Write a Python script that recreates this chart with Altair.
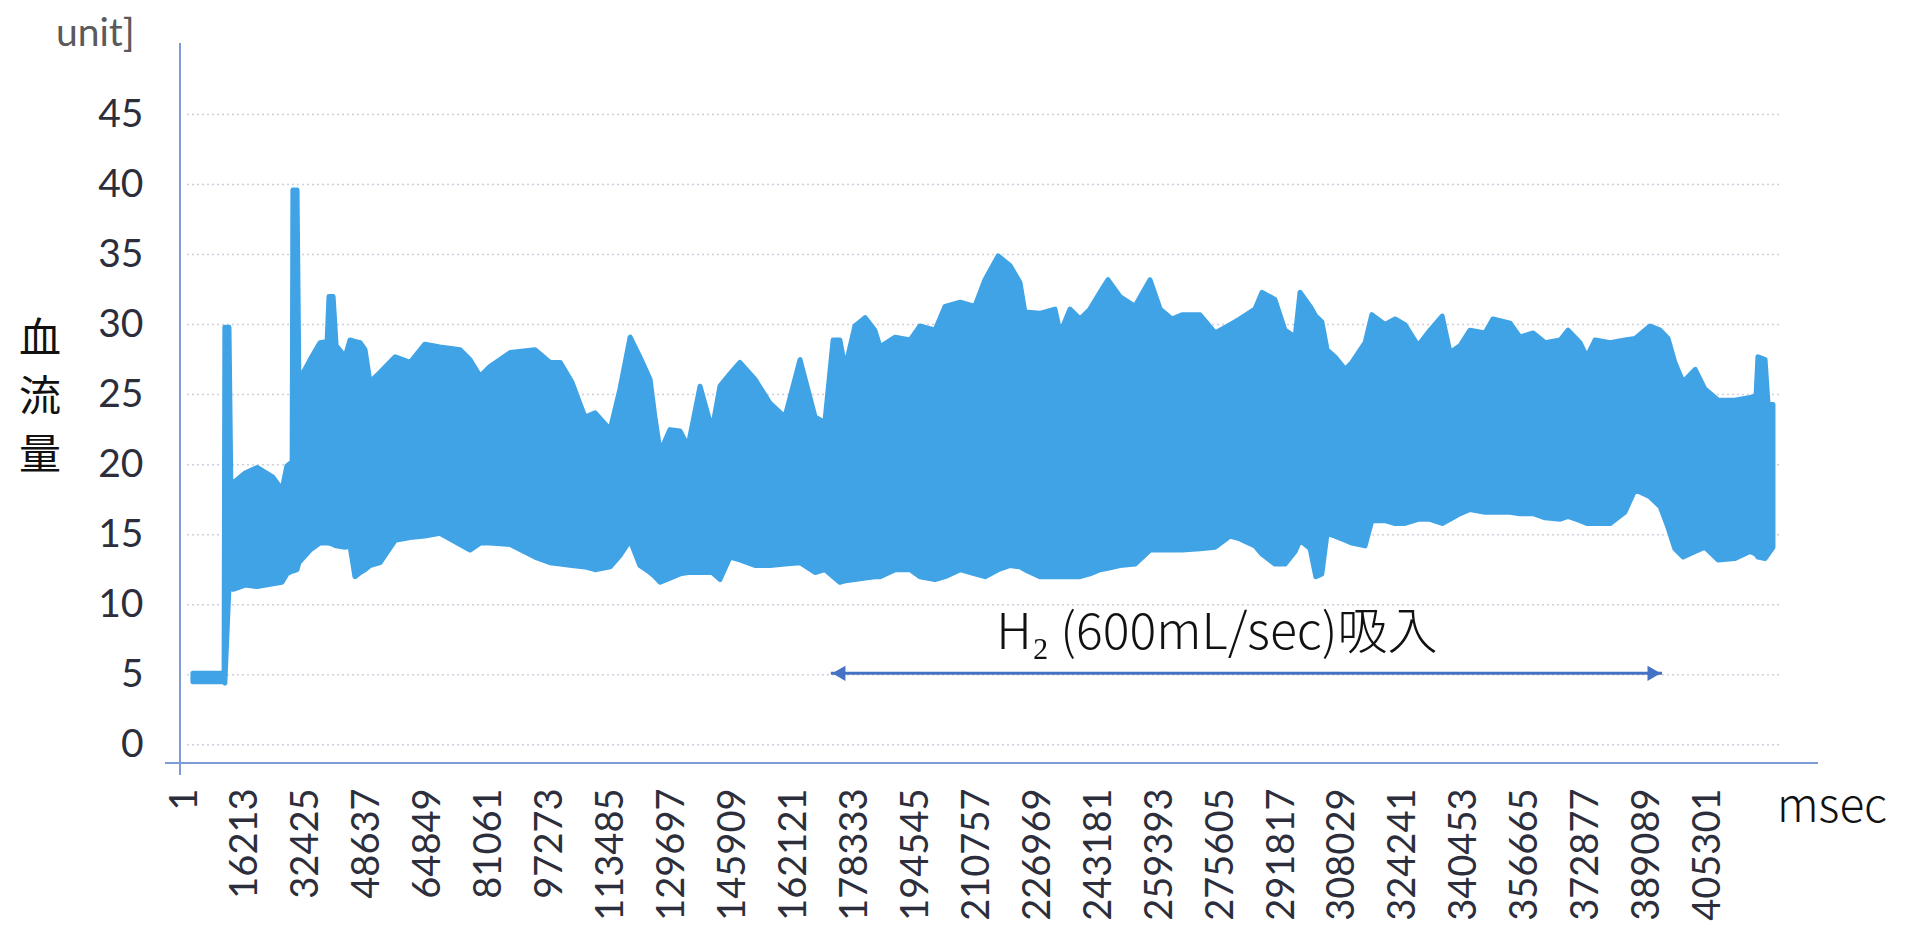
import altair as alt
import pandas as pd

# ---- data ----
ms = [2100, 10400, 10600, 11700, 12200, 12800, 16000, 19200, 23400, 25800,
      27100, 28500, 28700, 29800, 30300, 33300, 35900, 37800, 38300, 39400,
      40200, 42600, 43900, 45200, 46600, 47900, 49200, 51900, 55900, 59900,
      63800, 67800, 73200, 75800, 78500, 81100, 86500, 93100, 97100, 99800,
      102900, 106400, 109100, 113100, 115700, 118400, 121000, 123700, 125000, 126400,
      129000, 131700, 133800, 137000, 140200, 142300, 145000, 147600, 151600, 155600,
      159600, 163600, 167600, 170200, 172400, 174200, 175600, 178200, 180900, 183500,
      184900, 188900, 192900, 195500, 199500, 202200, 206200, 210100, 212800, 216300,
      219500, 222100, 223400, 227400, 231400, 232800, 235400, 238100, 240700, 243400,
      245500, 248700, 252700, 256700, 259400, 262500, 265200, 270000, 274000, 278000,
      280600, 284600, 286500, 289900, 292600, 295300, 296600, 299300, 300800, 302400,
      303800, 305900, 308600, 310400, 313900, 315700, 319200, 321900, 324500, 328000,
      331200, 334400, 336500, 339200, 341800, 345800, 347900, 352500, 355100, 358600,
      361800, 365800, 367900, 371100, 372900, 375100, 379100, 383000, 385700, 389700,
      392400, 394500, 396300, 398500, 401700, 404300, 407800, 412300, 416300, 417900,
      418400, 420300, 421100, 422400]

flow_hi = [5.1, 5.1, 29.8, 29.8, 18.5, 18.7, 19.4, 19.8, 19.1, 18.2,
           19.9, 20.2, 39.6, 39.6, 26.0, 27.5, 28.7, 28.8, 32.0, 32.0,
           28.5, 27.7, 28.9, 28.8, 28.7, 28.2, 25.9, 26.6, 27.7, 27.3,
           28.6, 28.4, 28.2, 27.5, 26.3, 27.0, 28.0, 28.2, 27.3, 27.3,
           25.9, 23.4, 23.7, 22.5, 25.4, 29.1, 27.7, 26.1, 23.4, 20.9,
           22.5, 22.4, 21.3, 25.6, 22.5, 25.6, 26.5, 27.3, 26.1, 24.4,
           23.4, 27.5, 23.4, 23.0, 28.9, 28.9, 26.9, 29.9, 30.5, 29.6,
           28.4, 29.1, 28.9, 29.9, 29.6, 31.3, 31.6, 31.3, 33.2, 34.9,
           34.2, 33.0, 30.9, 30.8, 31.1, 29.4, 31.1, 30.4, 31.1, 32.3,
           33.2, 32.0, 31.3, 33.2, 31.1, 30.4, 30.7, 30.7, 29.4, 30.0,
           30.4, 31.1, 32.3, 31.8, 29.6, 29.1, 32.3, 31.3, 30.6, 30.2,
           28.2, 27.7, 26.8, 27.3, 28.7, 30.7, 30.0, 30.4, 30.0, 28.5,
           29.6, 30.6, 28.0, 28.5, 29.6, 29.4, 30.4, 30.1, 29.1, 29.4,
           28.7, 28.9, 29.6, 28.7, 27.7, 28.9, 28.7, 28.9, 29.0, 29.9,
           29.6, 29.0, 27.3, 25.9, 26.8, 25.4, 24.6, 24.6, 24.8, 24.9,
           27.7, 27.5, 24.3, 24.3]

flow_lo = [4.5, 4.5, 4.4, 11.3, 11.2, 11.1, 11.4, 11.3, 11.5, 11.6,
           12.2, 12.4, 12.4, 12.5, 13.0, 13.9, 14.4, 14.4, 14.4, 14.3,
           14.2, 14.1, 14.2, 12.0, 12.3, 12.5, 12.8, 13.0, 14.6, 14.8,
           14.9, 15.1, 14.3, 13.9, 14.4, 14.4, 14.3, 13.4, 13.0, 12.9,
           12.8, 12.7, 12.5, 12.7, 13.5, 14.6, 12.8, 12.3, 12.0, 11.6,
           11.9, 12.2, 12.3, 12.3, 12.3, 11.8, 13.4, 13.2, 12.8, 12.8,
           12.9, 13.0, 12.3, 12.5, 12.0, 11.6, 11.7, 11.8, 11.9, 12.0,
           12.0, 12.5, 12.5, 12.0, 11.8, 12.0, 12.5, 12.2, 12.0, 12.5,
           12.8, 12.7, 12.5, 12.0, 12.0, 12.0, 12.0, 12.0, 12.2, 12.5,
           12.6, 12.8, 12.9, 13.9, 13.9, 13.9, 13.9, 14.0, 14.1, 14.9,
           14.7, 14.2, 13.6, 12.9, 12.9, 13.8, 14.6, 14.0, 12.0, 12.2,
           15.1, 14.9, 14.6, 14.4, 14.2, 16.0, 16.0, 15.8, 15.8, 16.1,
           16.1, 15.8, 16.1, 16.5, 16.8, 16.6, 16.6, 16.6, 16.5, 16.5,
           16.2, 16.1, 16.3, 16.0, 15.8, 15.8, 15.8, 16.6, 18.2, 17.7,
           17.0, 15.5, 14.0, 13.4, 13.8, 14.1, 13.2, 13.3, 13.8, 13.6,
           13.4, 13.3, 13.6, 14.1]

x_tick_labels = [1, 16213, 32425, 48637, 64849, 81061, 97273, 113485, 129697,
                 145909, 162121, 178333, 194545, 210757, 226969, 243181, 259393,
                 275605, 291817, 308029, 324241, 340453, 356665, 372877, 389089,
                 405301]
y_tick_labels = [0, 5, 10, 15, 20, 25, 30, 35, 40, 45]

arrow_start = 171800
arrow_end = 392900
arrow_level = 5.1
note_text = "H₂ (600mL/sec)吸入"
note_x = 274500
note_y = 7.9

# ---- layout constants ----
W, H = 1638, 720
X_DOMAIN = [-1330, 434380]
Y_DOMAIN = [-1.3, 50.1]
BLUE = "#40A3E6"
AXIS_BLUE = "#7f9bd6"
LABEL_COLOR = "#2c2e3c"

df = pd.DataFrame({"ms": ms, "hi": flow_hi, "lo": flow_lo})
grid_df = pd.DataFrame({"g": y_tick_labels})
one = pd.DataFrame({"a": [0]})

xscale = alt.Scale(domain=X_DOMAIN, nice=False, zero=False)
yscale = alt.Scale(domain=Y_DOMAIN, nice=False, zero=False)

x_axis = alt.Axis(values=x_tick_labels, format="d", labelAngle=270, labelAlign="right",
                  labelBaseline="middle", labelPadding=25, ticks=False, domain=False,
                  grid=False, title=None, labelFont="Lato", labelFontSize=38,
                  labelColor=LABEL_COLOR, labelOverlap=False, labelBound=False,
                  labelFlush=False)
y_axis = alt.Axis(values=y_tick_labels, format="d", ticks=False, domain=False, grid=False,
                  title=None, labelPadding=37, labelFont="Lato", labelFontSize=39,
                  labelColor=LABEL_COLOR, labelOverlap=False, labelBound=False,
                  labelFlush=False)

grid = alt.Chart(grid_df).mark_rule(color="#cfcfdc", strokeDash=[2, 3], strokeWidth=1.5).encode(
    y=alt.Y("g:Q", scale=yscale, axis=y_axis),
    x=alt.value(7), x2=alt.value(1599),
)

band = alt.Chart(df).mark_area(color=BLUE, opacity=1, stroke=BLUE, strokeWidth=5,
                               strokeJoin="round", interpolate="linear").encode(
    x=alt.X("ms:Q", scale=xscale, axis=x_axis),
    y=alt.Y("lo:Q", scale=yscale, axis=y_axis),
    y2="hi:Q",
)

yline = alt.Chart(one).mark_rule(color=AXIS_BLUE, strokeWidth=2).encode(
    x=alt.value(0), y=alt.value(0), y2=alt.value(H + 12))
xline = alt.Chart(one).mark_rule(color=AXIS_BLUE, strokeWidth=2).encode(
    x=alt.value(-15), x2=alt.value(W), y=alt.value(H))

arrow_df = pd.DataFrame({"s": [arrow_start], "e": [arrow_end], "lv": [arrow_level]})
arrow_line = alt.Chart(arrow_df).mark_rule(color="#4472C4", strokeWidth=3).encode(
    x=alt.X("s:Q", scale=xscale), x2="e:Q", y=alt.Y("lv:Q", scale=yscale))
head_l = alt.Chart(arrow_df).mark_point(shape="triangle-left", filled=True, size=230,
                                        color="#4472C4", opacity=1, xOffset=8).encode(
    x=alt.X("s:Q", scale=xscale), y=alt.Y("lv:Q", scale=yscale))
head_r = alt.Chart(arrow_df).mark_point(shape="triangle-right", filled=True, size=230,
                                        color="#4472C4", opacity=1, xOffset=-8).encode(
    x=alt.X("e:Q", scale=xscale), y=alt.Y("lv:Q", scale=yscale))

note_df = pd.DataFrame({"nx": [note_x], "ny": [note_y], "t": [note_text]})
note = alt.Chart(note_df).mark_text(font="Noto Sans CJK JP", fontSize=50, fontWeight=300,
                                    align="center", baseline="middle", color="#111111").encode(
    x=alt.X("nx:Q", scale=xscale), y=alt.Y("ny:Q", scale=yscale), text="t:N")

unit_txt = alt.Chart(one).mark_text(text="unit]", font="Lato", fontSize=39, color="#5a5a5a",
                                    align="left", baseline="alphabetic").encode(
    x=alt.value(-124), y=alt.value(3))
ytitle = alt.Chart(one).mark_text(text="血\n流\n量", lineBreak="\n", lineHeight=58,
                                  font="Noto Sans CJK JP", fontSize=42, color="#111111",
                                  align="center", baseline="middle").encode(
    x=alt.value(-140), y=alt.value(297))
xtitle = alt.Chart(one).mark_text(text="msec", font="Noto Sans CJK JP", fontSize=46,
                                  fontWeight=300, color="#111111", align="left",
                                  baseline="alphabetic").encode(
    x=alt.value(1597), y=alt.value(779))

chart = alt.layer(grid, band, yline, xline, arrow_line, head_l, head_r, note,
                  unit_txt, ytitle, xtitle).properties(
    width=W, height=H,
    autosize=alt.AutoSizeParams(type="none"),
    padding={"left": 172, "top": 35, "right": 80, "bottom": 158},
    background="white",
).configure_view(stroke=None)

chart.save("out.html", embed_options={"renderer": "svg", "actions": False})
